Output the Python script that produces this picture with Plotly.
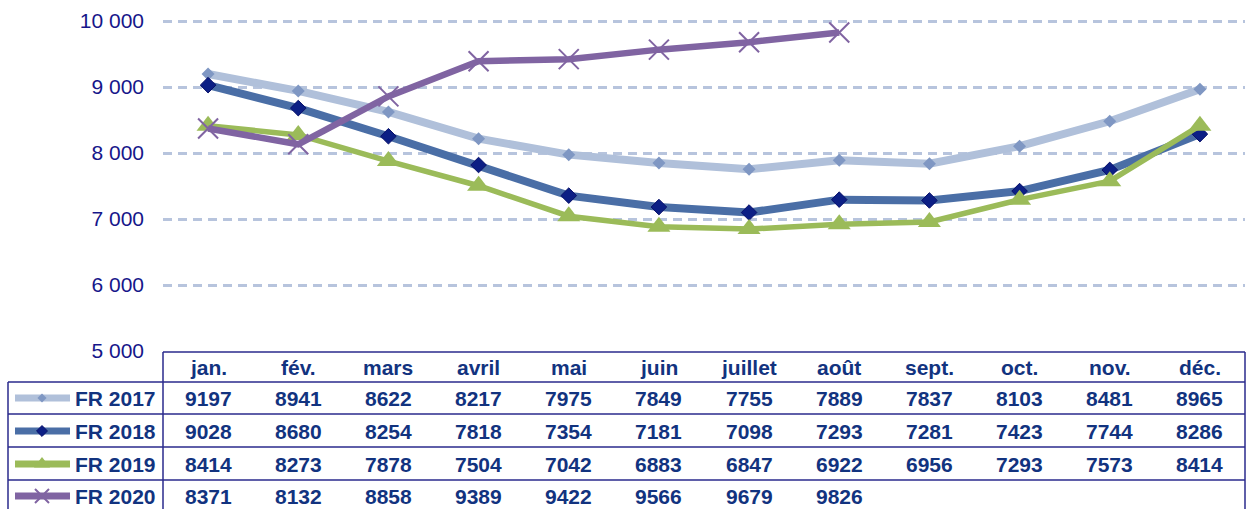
import plotly.graph_objects as go

months = ["jan.", "fév.", "mars", "avril", "mai", "juin", "juillet", "août",
          "sept.", "oct.", "nov.", "déc."]
series_names = ["FR 2017", "FR 2018", "FR 2019", "FR 2020"]
fr2017 = [9197, 8941, 8622, 8217, 7975, 7849, 7755, 7889, 7837, 8103, 8481, 8965]
fr2018 = [9028, 8680, 8254, 7818, 7354, 7181, 7098, 7293, 7281, 7423, 7744, 8286]
fr2019 = [8414, 8273, 7878, 7504, 7042, 6883, 6847, 6922, 6956, 7293, 7573, 8414]
fr2020 = [8371, 8132, 8858, 9389, 9422, 9566, 9679, 9826]
tick_vals = [5000, 6000, 7000, 8000, 9000, 10000]
tick_text = ["5 000", "6 000", "7 000", "8 000", "9 000", "10 000"]

W, H = 1249, 509
styles = [
    dict(line="#b0c0da", lw=8, sym="diamond", ms=10, mc="#7f97c3", mlc="#7f97c3", mlw=0),
    dict(line="#4a6ea6", lw=8, sym="diamond", ms=12, mc="#0c1f85", mlc="#08106a", mlw=1),
    dict(line="#9bbb59", lw=5.5, sym="triangle-up", ms=20, mc="#9bbb59", mlc="#9bbb59", mlw=0),
    dict(line="#8064a2", lw=6.5, sym="x-thin", ms=20, mc="#8064a2", mlc="#8064a2", mlw=2),
]
data = [fr2017, fr2018, fr2019, fr2020]

fig = go.Figure()
for name, vals, st in zip(series_names, data, styles):
    fig.add_trace(go.Scatter(
        x=months[:len(vals)], y=vals, mode="lines+markers", name=name,
        line=dict(color=st["line"], width=st["lw"]),
        marker=dict(symbol=st["sym"], size=st["ms"], color=st["mc"],
                    line=dict(color=st["mlc"], width=st["mlw"])),
        cliponaxis=False, showlegend=False))

# legend swatches in pixel overlay axes
row_y = [398, 431, 464, 496]
for ry, st in zip(row_y, styles):
    fig.add_trace(go.Scatter(
        x=[15, 70], y=[ry, ry], mode="lines", xaxis="x2", yaxis="y2",
        line=dict(color=st["line"], width=7), showlegend=False, hoverinfo="skip"))
    fig.add_trace(go.Scatter(
        x=[42], y=[ry], mode="markers", xaxis="x2", yaxis="y2",
        marker=dict(symbol=st["sym"], size=st["ms"] * 0.7, color=st["mc"],
                    line=dict(color=st["mlc"], width=st["mlw"])),
        showlegend=False, hoverinfo="skip"))

def px(x):
    return x / W

def py(y):
    return 1 - y / H

x0, x1 = 163, 1245
fig.update_layout(
    width=W, height=H,
    margin=dict(l=0, r=0, t=0, b=0),
    paper_bgcolor="white", plot_bgcolor="rgba(0,0,0,0)",
    font=dict(family="Liberation Sans, Arial, sans-serif"),
    xaxis=dict(domain=[px(x0), px(x1)], type="category", categoryorder="array",
               categoryarray=months, range=[-0.5, 11.5], showticklabels=False,
               showgrid=False, zeroline=False, showline=False),
    yaxis=dict(domain=[py(351), py(17.04)], range=[5000, 10060], tickvals=tick_vals,
               ticktext=tick_text, tickfont=dict(size=21, color="#16168a"),
               showgrid=True, gridcolor="#b7c4dd", gridwidth=2.5, griddash="9px,6px",
               zeroline=False, showline=False, ticklabelstandoff=18, automargin=False),
    xaxis2=dict(domain=[0, 1], range=[0, W], visible=False, fixedrange=True, anchor="y2"),
    yaxis2=dict(domain=[0, 1], range=[H, 0], visible=False, fixedrange=True, anchor="x2"),
)

lc = "#2a2a8c"
shapes = []
def hline(y, xa, xb, w=1.5):
    shapes.append(dict(type="line", xref="paper", yref="paper", x0=px(xa), x1=px(xb),
                       y0=py(y), y1=py(y), line=dict(color=lc, width=w)))
def vline(x, ya, yb, w=1.5):
    shapes.append(dict(type="line", xref="paper", yref="paper", x0=px(x), x1=px(x),
                       y0=py(ya), y1=py(yb), line=dict(color=lc, width=w)))

hline(352, x0, x1)
for y in [382, 414, 447, 480]:
    hline(y, 8, x1)
vline(8, 382, 509)
vline(x0, 352, 509)
vline(x1, 352, 509)
fig.update_layout(shapes=shapes)

tc = "#12337f"
ann = []
colw = (x1 - x0) / 12
for i, m in enumerate(months):
    cx = x0 + colw * (i + 0.5)
    ann.append(dict(x=px(cx), y=py(367), xref="paper", yref="paper", text=m,
                    showarrow=False, xanchor="center", yanchor="middle",
                    font=dict(size=21, color=tc, weight="bold")))
for ry, name, vals in zip(row_y, series_names, data):
    ann.append(dict(x=px(73), y=py(ry), xref="paper", yref="paper", text=name,
                    showarrow=False, xanchor="left", yanchor="middle",
                    font=dict(size=21, color=tc, weight="bold")))
    for i, v in enumerate(vals):
        cx = x0 + colw * (i + 0.5)
        ann.append(dict(x=px(cx), y=py(ry), xref="paper", yref="paper", text=str(v),
                        showarrow=False, xanchor="center", yanchor="middle",
                        font=dict(size=21, color=tc, weight="bold")))
fig.update_layout(annotations=ann)

fig.write_html("out.html", config={"displayModeBar": False},
               post_script="document.body.style.margin='0px';document.body.style.overflow='hidden';")
